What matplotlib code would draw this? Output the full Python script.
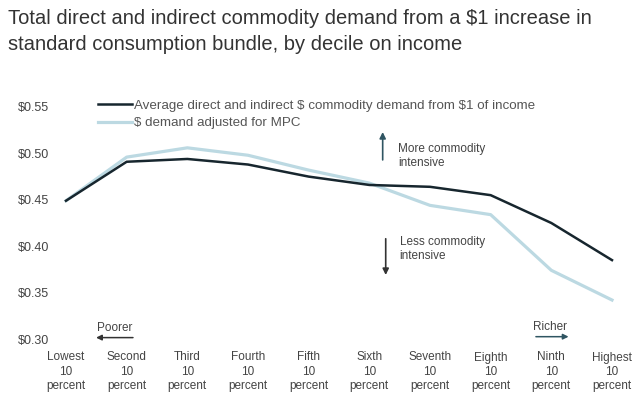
import matplotlib.pyplot as plt
from matplotlib import font_manager

# deciles on income
deciles = ["Lowest", "Second", "Third", "Fourth", "Fifth",
           "Sixth", "Seventh", "Eighth", "Ninth", "Highest"]
tick_labels = [d + "\n10\npercent" for d in deciles]

# average direct and indirect $ commodity demand from $1 of income
avg_demand = [0.449, 0.491, 0.494, 0.488, 0.475, 0.466, 0.464, 0.455, 0.425, 0.385]
# $ demand adjusted for MPC
mpc_demand = [0.449, 0.496, 0.506, 0.498, 0.482, 0.468, 0.444, 0.434, 0.374, 0.342]

yticks = [0.30, 0.35, 0.40, 0.45, 0.50, 0.55]

names = {f.name for f in font_manager.fontManager.ttflist}
font = "Liberation Sans Narrow" if "Liberation Sans Narrow" in names else "Liberation Sans"
plt.rcParams['font.family'] = [font, 'DejaVu Sans']

fig = plt.figure(figsize=(6.36, 4.01), dpi=100)
ax = fig.add_axes([66 / 636, 1 - 339 / 401, 546 / 636, 232 / 401])

x = list(range(len(deciles)))
ax.plot(x, mpc_demand, color='#bcd9e2', lw=2.3, clip_on=False,
        label=r'\$ demand adjusted for MPC')
ax.plot(x, avg_demand, color='#17262e', lw=1.8, clip_on=False,
        label=r'Average direct and indirect \$ commodity demand from \$1 of income')

ax.set_xlim(0, 9)
ax.set_ylim(0.30, 0.55)
ax.set_yticks(yticks)
ax.set_yticklabels([r'\${:.2f}'.format(v) for v in yticks])
ax.set_xticks(x)
ax.set_xticklabels(tick_labels, linespacing=1.25)
ax.tick_params(axis='both', length=0, labelsize=8.5, colors='#444444')
ax.tick_params(axis='y', pad=12, labelsize=9)
ax.tick_params(axis='x', pad=9)
for s in ax.spines.values():
    s.set_visible(False)

h, l = ax.get_legend_handles_labels()
ax.legend(h[::-1], l[::-1], loc='upper left', bbox_to_anchor=(0.058, 1.033),
          frameon=False, fontsize=9.6, handlelength=2.6, handletextpad=0.1,
          labelspacing=0.4, borderpad=0, borderaxespad=0, labelcolor='#555555')

# direction annotations
ax.annotate('', xy=(5.22, 0.526), xytext=(5.22, 0.490),
            arrowprops=dict(arrowstyle='-|>', color='#2f5562', lw=1.2, mutation_scale=9))
ax.text(5.47, 0.497, 'More commodity\nintensive', fontsize=8.5, color='#444444',
        va='center', ha='left', linespacing=1.2)
ax.annotate('', xy=(5.27, 0.366), xytext=(5.27, 0.411),
            arrowprops=dict(arrowstyle='-|>', color='#333333', lw=1.2, mutation_scale=9))
ax.text(5.5, 0.397, 'Less commodity\nintensive', fontsize=8.5, color='#444444',
        va='center', ha='left', linespacing=1.2)

ax.annotate('', xy=(0.45, 0.3015), xytext=(1.15, 0.3015),
            arrowprops=dict(arrowstyle='-|>', color='#333333', lw=1.1, mutation_scale=8),
            annotation_clip=False)
ax.text(0.8, 0.305, 'Poorer', fontsize=8.5, color='#444444', ha='center', va='bottom')
ax.annotate('', xy=(8.33, 0.3025), xytext=(7.7, 0.3025),
            arrowprops=dict(arrowstyle='-|>', color='#2f5562', lw=1.1, mutation_scale=8),
            annotation_clip=False)
ax.text(7.98, 0.306, 'Richer', fontsize=8.5, color='#444444', ha='center', va='bottom')

fig.text(8 / 636, 1 - 9 / 401,
         'Total direct and indirect commodity demand from a \\$1 increase in\n'
         'standard consumption bundle, by decile on income',
         fontsize=14.5, color='#333333', ha='left', va='top', linespacing=1.45)

fig.savefig('out.png', dpi=100, facecolor='white')
